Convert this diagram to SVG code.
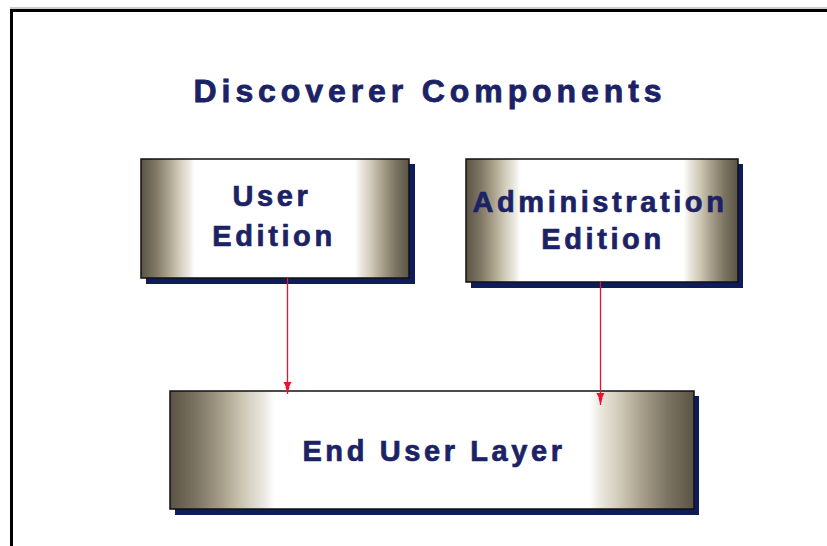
<svg xmlns="http://www.w3.org/2000/svg" width="827" height="546" viewBox="0 0 827 546">
<style>
.box{stroke:#111;stroke-width:1.5;fill:url(#shade)}
.shadow{fill:#0e1c5c}
.lbl{font-family:"Liberation Sans",Arial,sans-serif;font-weight:bold;font-size:29px;letter-spacing:3.6px;fill:#1c2266;stroke:#1c2266;stroke-width:0.7;text-anchor:middle}
.title{font-family:"Liberation Sans",Arial,sans-serif;font-weight:bold;font-size:32px;letter-spacing:4.9px;fill:#1c2266;stroke:#1c2266;stroke-width:0.8;text-anchor:middle}
.conn{stroke:#f0102e;stroke-width:1.3;fill:none}
</style>
<defs>
<linearGradient id="shade" x1="0" y1="0" x2="1" y2="0">
<stop offset="0" stop-color="#5a5446"/>
<stop offset="0.05" stop-color="#7c7462"/>
<stop offset="0.1" stop-color="#a8a08a"/>
<stop offset="0.14" stop-color="#cec8b6"/>
<stop offset="0.18" stop-color="#ece9e2"/>
<stop offset="0.2" stop-color="#ffffff"/>
<stop offset="0.8" stop-color="#ffffff"/>
<stop offset="0.82" stop-color="#ece9e2"/>
<stop offset="0.86" stop-color="#cec8b6"/>
<stop offset="0.9" stop-color="#a8a08a"/>
<stop offset="0.95" stop-color="#7c7462"/>
<stop offset="1" stop-color="#5a5446"/>
</linearGradient>
<marker id="arr" markerWidth="12" markerHeight="10" refX="12" refY="5" orient="auto" markerUnits="userSpaceOnUse" viewBox="0 0 12 10">
<path d="M0,1 L0,9 L5,6.5 L5,7 L12,5 L5,3 L5,3.5 Z" fill="#f0102e"/>
</marker>
</defs>
<rect x="0" y="0" width="827" height="546" fill="#fff"/>
<rect x="11.5" y="10.5" width="830" height="550" fill="none" stroke="#000" stroke-width="3"/>
<line x1="10" y1="8" x2="827" y2="8" stroke="#999" stroke-width="1"/>
<text class="title" x="430" y="102">Discoverer Components</text>
<g id="user-edition">
<rect class="shadow" x="146" y="164" width="269" height="120"/>
<rect class="box" x="141" y="159" width="268" height="119"/>
<text class="lbl" x="272" y="206">User</text>
<text class="lbl" x="274" y="246">Edition</text>
</g>
<g id="administration-edition">
<rect class="shadow" x="471" y="164" width="272" height="124"/>
<rect class="box" x="466" y="159" width="272" height="123"/>
<text class="lbl" x="600" y="212">Administration</text>
<text class="lbl" x="603" y="249">Edition</text>
</g>
<g id="end-user-layer">
<rect class="shadow" x="175" y="396" width="524" height="119"/>
<rect class="box" x="170" y="391" width="524" height="118"/>
<text class="lbl" x="434" y="461">End User Layer</text>
</g>
<g id="connectors">
<line class="conn" x1="287.5" y1="278" x2="287.5" y2="394" marker-end="url(#arr)"/>
<line class="conn" x1="600.5" y1="282" x2="600.5" y2="405" marker-end="url(#arr)"/>
</g>
</svg>
